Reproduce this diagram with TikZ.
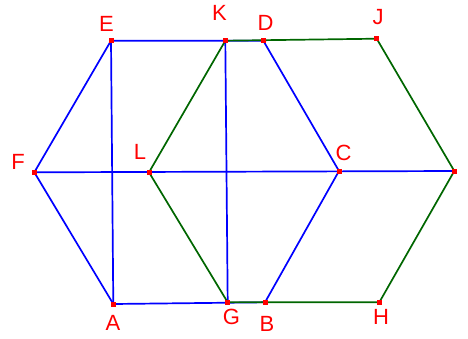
\documentclass[tikz,border=0pt]{standalone}
\usepackage{fontspec}
\setmainfont{Liberation Sans}
\begin{document}
\begin{tikzpicture}[x=1pt, y=-1pt,
  blueline/.style={draw=blue, line width=1.7pt},
  greenline/.style={draw=green!40!black, line width=1.7pt},
  ptmark/.style={fill=red, minimum size=5pt, inner sep=0pt},
  ptlabel/.style={text=red, font=\fontsize{22}{22}\selectfont, inner sep=0pt}]
\useasboundingbox (0,0) rectangle (468,338);

% Set the points
\coordinate (E) at (111, 40.7);
\coordinate (K) at (225.3, 40.7);
\coordinate (D) at (263.3, 40.7);
\coordinate (J) at (376.7, 38.7);
\coordinate (F) at (34.3, 172.3);
\coordinate (L) at (149, 172.3);
\coordinate (C) at (339, 171);
\coordinate (M) at (454.3, 171);
\coordinate (A) at (113.3, 304);
\coordinate (G) at (227.7, 302.3);
\coordinate (B) at (265, 302.3);
\coordinate (H) at (379.3, 302.3);

% Blue hexagon and its lines
\draw[blueline] (A) -- (B) -- (C) -- (D) -- (E) -- (F) -- cycle;
\draw[blueline] (E) -- (A);
\draw[blueline] (K) -- (G);
\draw[blueline] (F) -- (M);

% Green hexagon
\draw[greenline] (G) -- (H) -- (M) -- (J) -- (K) -- (L) -- cycle;

% Point marks
\foreach \p in {A,B,C,D,E,F,G,H,J,K,L,M}
  \node[ptmark] (m\p) at (\p) {};

% Labels
\node[ptlabel] (lE) at (106.5, 23.5) {E};
\node[ptlabel] (lK) at (219.5, 13) {K};
\node[ptlabel] (lD) at (265.5, 23) {D};
\node[ptlabel] (lJ) at (378, 17) {J};
\node[ptlabel] (lF) at (18, 162) {F};
\node[ptlabel] (lL) at (140, 152) {L};
\node[ptlabel] (lC) at (343.5, 153) {C};
\node[ptlabel] (lA) at (113, 323) {A};
\node[ptlabel] (lG) at (231.5, 317) {G};
\node[ptlabel] (lB) at (267, 324) {B};
\node[ptlabel] (lH) at (381, 317) {H};
\end{tikzpicture}
\end{document}
